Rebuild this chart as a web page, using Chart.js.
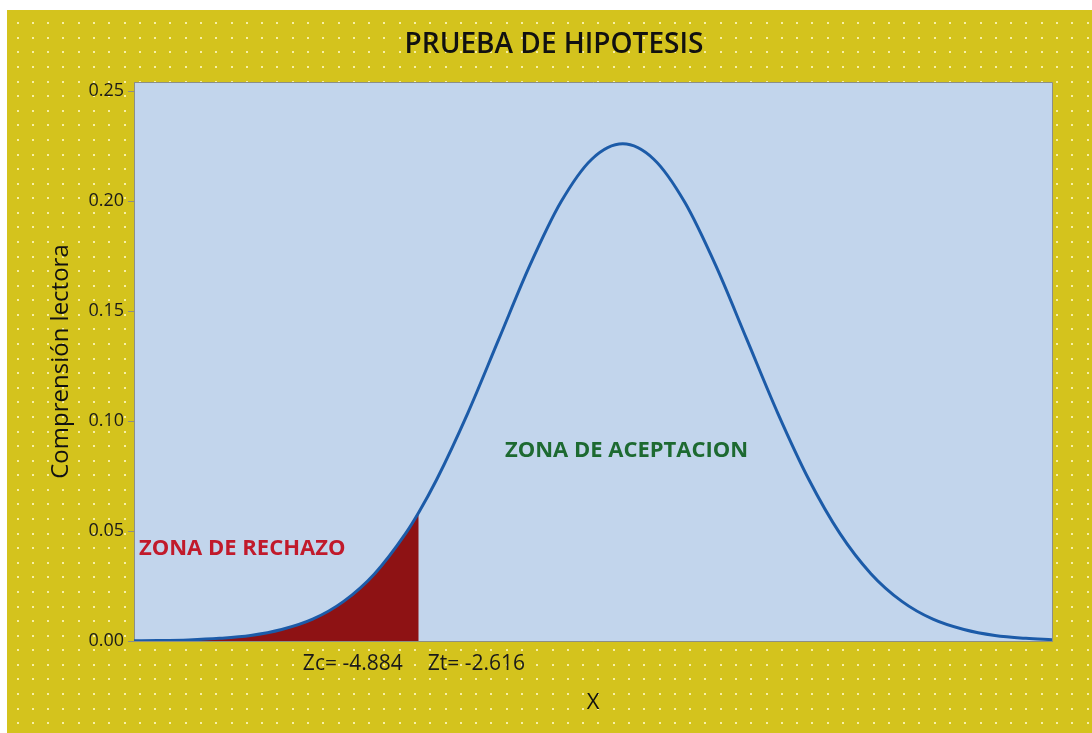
<!DOCTYPE html>
<html>
<head>
<meta charset="utf-8">
<script src="https://cdn.jsdelivr.net/npm/chart.js@4"></script>
<style>
  html, body { margin: 0; padding: 0; background: #ffffff; }
  #wrap { width: 1092px; height: 733px; }
</style>
</head>
<body>
<div id="wrap"><canvas id="c" width="1092" height="733"></canvas></div>
<script>
// ---- data ----
const xValues = [-3.94, -3.75, -3.5, -3.25, -3.0, -2.75, -2.5, -2.25, -2.0, -1.75, -1.645, -1.5, -1.25, -1.0, -0.75, -0.5, -0.25, 0,
                 0.25, 0.5, 0.75, 1.0, 1.25, 1.5, 1.75, 2.0, 2.25, 2.5, 2.75, 3.0, 3.25, 3.46];
const densityValues = [0.0001, 0.0002, 0.0005, 0.0012, 0.0025, 0.0052, 0.0099, 0.0180, 0.0306, 0.0489, 0.0584, 0.0734, 0.1035, 0.1371, 0.1706, 0.1994, 0.2190, 0.2260,
                       0.2190, 0.1994, 0.1706, 0.1371, 0.1035, 0.0734, 0.0489, 0.0306, 0.0180, 0.0099, 0.0052, 0.0025, 0.0012, 0.0006];
const criticalX = -1.645;           // border of the rejection zone
const yTickValues = [0, 0.05, 0.10, 0.15, 0.20, 0.25];
const chartTitle = 'PRUEBA DE HIPOTESIS';
const yTitle = 'Comprensión lectora';
const xTitle = 'X';
const rejectLabel = 'ZONA DE RECHAZO';
const acceptLabel = 'ZONA DE ACEPTACION';
const zcLabel = 'Zc= -4.884';
const ztLabel = 'Zt= -2.616';

const curvePoints = xValues.map((x, i) => ({ x: x, y: densityValues[i] }));
const rejectPoints = curvePoints.filter(p => p.x <= criticalX + 1e-9);

const FONT = "'Open Sans', 'Noto Sans', sans-serif";

const backgroundPlugin = {
  id: 'bg',
  beforeDraw(chart) {
    const ctx = chart.ctx;
    ctx.save();
    ctx.fillStyle = '#ffffff';
    ctx.fillRect(0, 0, chart.width, chart.height);
    ctx.fillStyle = '#d4c31d';
    ctx.fillRect(7, 10, chart.width - 7, chart.height - 10);
    ctx.fillStyle = 'rgba(255,250,200,0.8)';
    for (let j = 0; j < 60; j++) {
      const y = 23.3 + j * 14.58;
      if (y > chart.height) break;
      for (let i = 0; i < 80; i++) {
        const x = 17.5 + i * 15.287;
        if (x > chart.width) break;
        ctx.fillRect(Math.round(x - 1), Math.round(y - 1), 2, 2);
      }
    }
    const a = chart.chartArea;
    ctx.fillStyle = '#c2d5ec';
    ctx.fillRect(a.left, a.top, a.right - a.left, a.bottom - a.top);
    ctx.restore();
  },
  afterDraw(chart) {
    const ctx = chart.ctx;
    const a = chart.chartArea;
    const xs = chart.scales.x, ys = chart.scales.y;
    ctx.save();
    ctx.strokeStyle = '#8c8f86';
    ctx.lineWidth = 1;
    ctx.beginPath();
    ctx.moveTo(a.left, a.top + 0.5);
    ctx.lineTo(a.right + 0.5, a.top + 0.5);
    ctx.lineTo(a.right + 0.5, a.bottom);
    ctx.stroke();

    // zone labels
    ctx.textBaseline = 'middle';
    ctx.textAlign = 'left';
    ctx.font = "bold 22px " + FONT;
    ctx.fillStyle = '#c11a2b';
    ctx.fillText(rejectLabel, xs.getPixelForValue(-3.9), ys.getPixelForValue(0.0418));
    ctx.fillStyle = '#1d6a31';
    ctx.fillText(acceptLabel, xs.getPixelForValue(-0.95), ys.getPixelForValue(0.0865));

    // critical value labels under the axis
    const bx = xs.getPixelForValue(criticalX);
    ctx.font = "21px " + FONT;
    ctx.fillStyle = '#1a1a1a';
    ctx.textAlign = 'right';
    ctx.fillText(zcLabel, bx - 16, a.bottom + 23);
    ctx.textAlign = 'left';
    ctx.fillText(ztLabel, bx + 9, a.bottom + 23);
    ctx.restore();
  }
};

new Chart(document.getElementById('c'), {
  type: 'line',
  data: {
    datasets: [
      {
        label: 'curva',
        data: curvePoints,
        borderColor: '#1c5ba8',
        borderWidth: 3,
        pointRadius: 0,
        fill: false,
        cubicInterpolationMode: 'monotone'
      },
      {
        label: 'rechazo',
        data: rejectPoints,
        borderColor: '#8e1214',
        borderWidth: 0,
        backgroundColor: '#8e1214',
        pointRadius: 0,
        fill: 'origin',
        cubicInterpolationMode: 'monotone'
      }
    ]
  },
  options: {
    responsive: false,
    animation: false,
    devicePixelRatio: 1,
    layout: { padding: { left: 16, top: 10, right: 0, bottom: 0 } },
    plugins: {
      legend: { display: false },
      tooltip: { enabled: false },
      title: {
        display: true,
        text: chartTitle,
        color: '#111111',
        font: { family: FONT, size: 28, weight: '600', lineHeight: 1.2 },
        padding: { top: 18, bottom: 20.4 }
      }
    },
    scales: {
      x: {
        type: 'linear',
        min: -3.94,
        max: 3.46,
        ticks: { display: false },
        grid: { display: false, drawTicks: false },
        border: { display: true, color: '#8c8f86', width: 1 },
        title: {
          display: true,
          text: xTitle,
          color: '#111111',
          font: { family: FONT, size: 22, lineHeight: 1.2 },
          padding: { top: 0, bottom: 17 }
        },
        afterFit(scale) { scale.height = 92; }
      },
      y: {
        type: 'linear',
        min: 0,
        max: 0.2541,
        afterBuildTicks(scale) { scale.ticks = yTickValues.map(v => ({ value: v })); },
        ticks: {
          color: '#1a1a1a',
          font: { family: FONT, size: 18 },
          padding: 4,
          callback: v => Number(v).toFixed(2)
        },
        grid: { display: true, drawOnChartArea: false, drawTicks: true, tickLength: 6, color: '#8c8f86' },
        border: { display: true, color: '#8c8f86', width: 1 },
        title: {
          display: true,
          text: yTitle,
          color: '#111111',
          font: { family: FONT, size: 24, lineHeight: 1.2 },
          padding: { top: 31, bottom: 0 }
        },
        afterFit(scale) { scale.width = 118; }
      },
      yRight: {
        type: 'linear',
        position: 'right',
        min: 0,
        max: 1,
        display: true,
        ticks: { display: false },
        grid: { display: false, drawTicks: false },
        border: { display: false },
        afterFit(scale) { scale.width = 40; }
      }
    }
  },
  plugins: [backgroundPlugin]
});
</script>
</body>
</html>
